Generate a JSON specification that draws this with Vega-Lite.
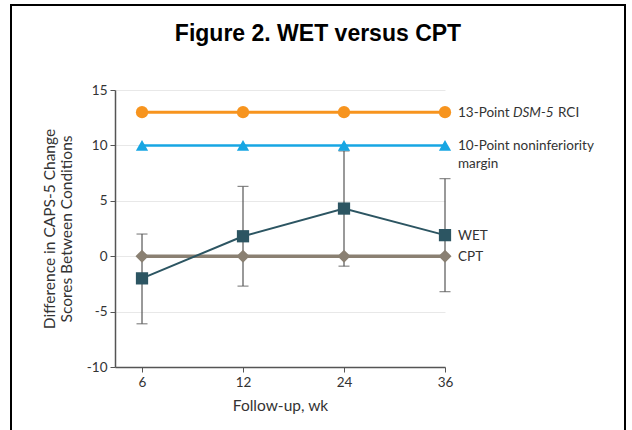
{
  "$schema": "https://vega.github.io/schema/vega-lite/v6.json",
  "width": 614,
  "height": 440,
  "autosize": {"type": "none"},
  "padding": {"left": 11, "top": 5, "right": 7, "bottom": 0},
  "background": "white",
  "config": {
    "view": {"stroke": "black", "strokeWidth": 2},
    "font": "Lato",
    "axis": {
      "labelFont": "Lato",
      "titleFont": "Lato",
      "labelFontSize": 13.5,
      "titleFontSize": 15.5,
      "titleFontWeight": "normal",
      "labelColor": "#333",
      "titleColor": "#333",
      "domainColor": "#555",
      "tickColor": "#555",
      "domainWidth": 1.5,
      "tickSize": 5
    }
  },
  "title": {
    "text": "Figure 2. WET versus CPT",
    "font": "Liberation Sans",
    "fontSize": 23,
    "fontWeight": "bold",
    "color": "black",
    "anchor": "middle",
    "baseline": "middle",
    "offset": -52
  },
  "datasets": {
    "series": [
      {"week": 6, "series": "RCI", "value": 13},
      {"week": 12, "series": "RCI", "value": 13},
      {"week": 24, "series": "RCI", "value": 13},
      {"week": 36, "series": "RCI", "value": 13},
      {"week": 6, "series": "Margin", "value": 10},
      {"week": 12, "series": "Margin", "value": 10},
      {"week": 24, "series": "Margin", "value": 10},
      {"week": 36, "series": "Margin", "value": 10},
      {"week": 6, "series": "CPT", "value": 0},
      {"week": 12, "series": "CPT", "value": 0},
      {"week": 24, "series": "CPT", "value": 0},
      {"week": 36, "series": "CPT", "value": 0},
      {"week": 6, "series": "WET", "value": -2.0, "lo": -6.1, "hi": 2.0},
      {"week": 12, "series": "WET", "value": 1.8, "lo": -2.7, "hi": 6.3},
      {"week": 24, "series": "WET", "value": 4.3, "lo": -0.9, "hi": 9.5},
      {"week": 36, "series": "WET", "value": 1.9, "lo": -3.2, "hi": 7.0}
    ],
    "labels": [
      {"week": 36, "series": "RCI", "value": 13, "text": ["13-Point"]},
      {"week": 36, "series": "Margin", "value": 10, "text": ["10-Point noninferiority", "margin"]},
      {"week": 36, "series": "WET", "value": 1.9, "text": ["WET"]},
      {"week": 36, "series": "CPT", "value": 0, "text": ["CPT"]}
    ],
    "rciparts": [
      {"week": 36, "value": 13, "part": "italic", "text": "DSM-5"},
      {"week": 36, "value": 13, "part": "plain", "text": "RCI"}
    ]
  },
  "encoding": {
    "x": {
      "field": "week",
      "type": "ordinal",
      "sort": [6, 12, 24, 36],
      "scale": {"type": "point", "domain": [6, 12, 24, 36], "range": [104, 434], "padding": 0.1337, "align": 1},
      "axis": {"title": "Follow-up, wk", "labelAngle": 0, "offset": -78, "labelPadding": 3, "titlePadding": 10}
    },
    "y": {
      "field": "value",
      "type": "quantitative",
      "scale": {"domain": [-10, 15], "range": [362, 85], "nice": false, "zero": false},
      "axis": {
        "title": ["Difference in CAPS-5 Change", "Scores Between Conditions"],
        "titleLineHeight": 17,
        "values": [-10, -5, 0, 5, 10, 15],
        "labelExpr": "datum.value + ''",
        "offset": -104,
        "gridColor": "#e8e8e8",
        "grid": true,
        "labelPadding": 3,
        "titlePadding": 12
      }
    }
  },
  "layer": [
    {
      "data": {"name": "series"},
      "transform": [{"filter": "datum.series === 'WET'"}],
      "mark": {"type": "rule", "color": "#555", "strokeWidth": 1.2},
      "encoding": {"y": {"field": "lo", "type": "quantitative"}, "y2": {"field": "hi"}}
    },
    {
      "data": {"name": "series"},
      "transform": [{"filter": "datum.series === 'WET'"}],
      "mark": {"type": "tick", "color": "#555", "size": 11, "thickness": 1.2, "orient": "horizontal"},
      "encoding": {"y": {"field": "lo", "type": "quantitative"}}
    },
    {
      "data": {"name": "series"},
      "transform": [{"filter": "datum.series === 'WET'"}],
      "mark": {"type": "tick", "color": "#555", "size": 11, "thickness": 1.2, "orient": "horizontal"},
      "encoding": {"y": {"field": "hi", "type": "quantitative"}}
    },
    {
      "data": {"name": "series"},
      "mark": {"type": "line"},
      "encoding": {
        "color": {"field": "series", "type": "nominal", "legend": null,
          "scale": {"domain": ["CPT", "WET", "Margin", "RCI"], "range": ["#8a8072", "#2c5562", "#17a6e3", "#f7941e"]}},
        "strokeWidth": {"field": "series", "type": "nominal", "legend": null,
          "scale": {"type": "ordinal", "domain": ["CPT", "WET", "Margin", "RCI"], "range": [3.5, 2, 2.5, 3]}},
        "order": {"field": "week", "type": "quantitative"}
      }
    },
    {
      "data": {"name": "series"},
      "mark": {"type": "point", "filled": true, "opacity": 1, "strokeWidth": 0},
      "encoding": {
        "color": {"field": "series", "type": "nominal", "legend": null},
        "shape": {"field": "series", "type": "nominal", "legend": null,
          "scale": {"domain": ["CPT", "WET", "Margin", "RCI"], "range": ["diamond", "square", "triangle-up", "circle"]}},
        "size": {"field": "series", "type": "nominal", "legend": null,
          "scale": {"type": "ordinal", "domain": ["CPT", "WET", "Margin", "RCI"], "range": [170, 150, 150, 150]}}
      }
    },
    {
      "data": {"name": "labels"},
      "mark": {"type": "text", "align": "left", "baseline": "alphabetic", "dx": 13, "dy": 5, "fontSize": 13.5, "color": "#333", "lineHeight": 18},
      "encoding": {"text": {"field": "text"}}
    },
    {
      "data": {"name": "rciparts"},
      "transform": [{"filter": "datum.part === 'italic'"}],
      "mark": {"type": "text", "align": "left", "baseline": "alphabetic", "dx": 68, "dy": 5, "fontSize": 13.5, "fontStyle": "italic", "color": "#333"},
      "encoding": {"text": {"field": "text"}}
    },
    {
      "data": {"name": "rciparts"},
      "transform": [{"filter": "datum.part === 'plain'"}],
      "mark": {"type": "text", "align": "left", "baseline": "alphabetic", "dx": 113, "dy": 5, "fontSize": 13.5, "color": "#333"},
      "encoding": {"text": {"field": "text"}}
    }
  ]
}
